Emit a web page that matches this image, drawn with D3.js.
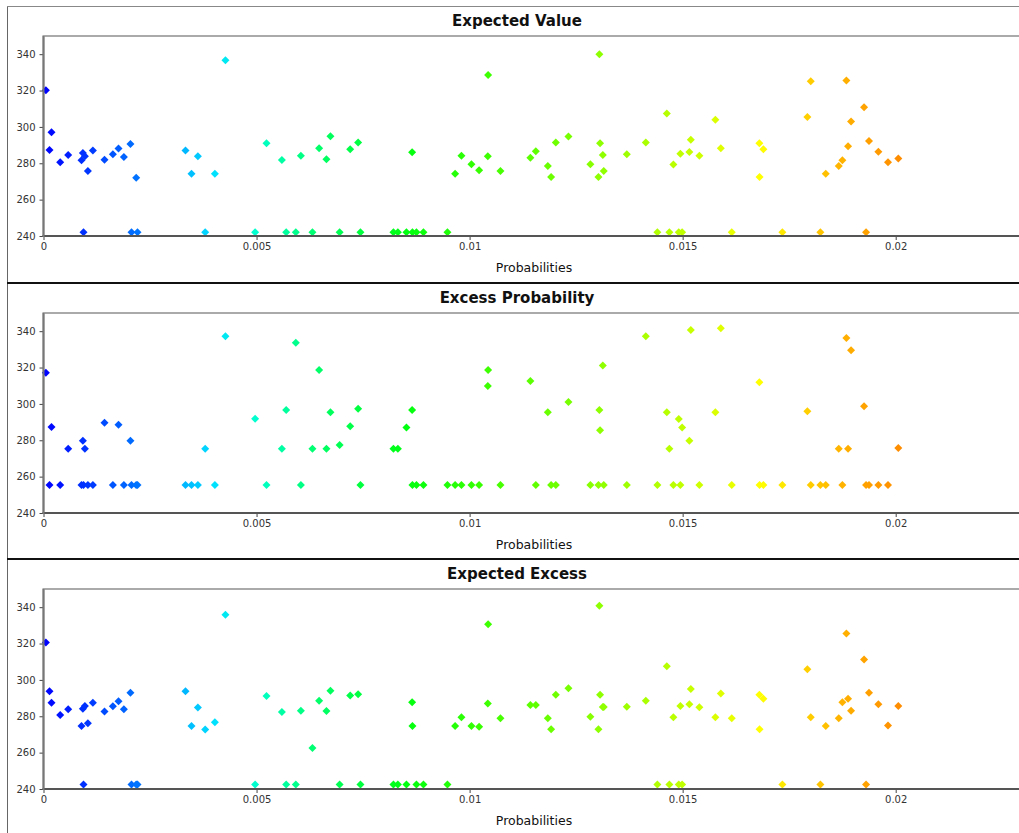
<!DOCTYPE html>
<html>
<head>
<meta charset="utf-8">
<script src="https://cdn.jsdelivr.net/npm/d3@7"></script>
<style>
  body { margin: 0; background: #fff; }
  svg { display: block; font-family: "DejaVu Sans", sans-serif; }
</style>
</head>
<body>
<script>
// probabilities shared by the three panels
const probabilities = [
  0.000056, 0.000141, 0.000188, 0.000392, 0.00058, 0.000892, 0.000924, 0.000939, 0.000971, 0.001042,
  0.001159, 0.001431, 0.001628, 0.00176, 0.001887, 0.002041, 0.002065, 0.002175, 0.002206, 0.003332,
  0.003473, 0.003623, 0.003794, 0.004022, 0.00427, 0.004967, 0.005233, 0.005594, 0.005695, 0.005922,
  0.00604, 0.006312, 0.006469, 0.00664, 0.006734, 0.00695, 0.007197, 0.007384, 0.007438, 0.008212,
  0.008316, 0.008517, 0.008651, 0.008658, 0.008752, 0.008916, 0.00948, 0.00966, 0.009808, 0.010043,
  0.010223, 0.010435, 0.010427, 0.010723, 0.011427, 0.011554, 0.011835, 0.011913, 0.012023, 0.012319,
  0.012835, 0.013023, 0.013046, 0.013062, 0.013126, 0.013149, 0.013689, 0.014135, 0.014407, 0.014628,
  0.014689, 0.014782, 0.014909, 0.014947, 0.014987, 0.015158, 0.015191, 0.015393, 0.015768, 0.015895,
  0.016153, 0.0168, 0.016805, 0.016894, 0.01734, 0.017927, 0.018006, 0.018232, 0.018358, 0.018663,
  0.018748, 0.018842, 0.018882, 0.018952, 0.019257, 0.019304, 0.019374, 0.019593, 0.01982, 0.020062
];

const expectedValue = [
  320.2, 287.3, 297.1, 280.6, 284.6, 281.7, 285.7, 242, 283.9, 275.8,
  287, 282, 285, 288.1, 283.5, 290.6, 242, 272.1, 242, 287,
  274.3, 283.9, 242, 274.3, 336.7, 242, 291, 281.8, 242, 242,
  284.2, 242, 288.3, 282.2, 294.9, 242, 287.7, 291.4, 242, 242,
  242, 242, 286.1, 242, 242, 242, 242, 274.3, 284.2, 279.5,
  276.2, 328.6, 283.9, 275.8, 283.1, 286.6, 278.5, 272.5, 291.4, 294.7,
  279.5, 272.5, 340, 291, 284.6, 275.8, 285, 291.4, 242, 307.4,
  242, 279.3, 242, 285.3, 242, 286.2, 293, 284.2, 303.9, 288.3,
  242, 291, 272.5, 287.7, 242, 305.5, 325.1, 242, 274.3, 278.5,
  281.7, 325.5, 289.4, 303, 310.8, 242, 292.3, 286.4, 280.6, 282.6
];

const excessProbability = [
  317.2, 255.4, 287.3, 255.4, 275.4, 255.4, 279.8, 255.4, 275.4, 255.4,
  255.4, 289.7, 255.4, 288.6, 255.4, 279.8, 255.4, 255.4, 255.4, 255.4,
  255.4, 255.4, 275.4, 255.4, 337.2, 291.9, 255.4, 275.4, 296.7, 333.6,
  255.4, 275.4, 318.7, 275.4, 295.4, 277.4, 287.7, 297.4, 255.4, 275.4,
  275.4, 287, 296.7, 255.4, 255.4, 255.4, 255.4, 255.4, 255.4, 255.4,
  255.4, 318.7, 309.9, 255.4, 312.6, 255.4, 295.4, 255.4, 255.4, 301.1,
  255.4, 255.4, 296.7, 285.5, 321.1, 255.4, 255.4, 337.2, 255.4, 295.4,
  275.4, 255.4, 291.7, 255.4, 287, 279.8, 340.7, 255.4, 295.4, 341.6,
  255.4, 311.9, 255.4, 255.4, 255.4, 296, 255.4, 255.4, 255.4, 275.4,
  255.4, 336.3, 275.4, 329.5, 298.7, 255.4, 255.4, 255.4, 255.4, 275.8
];

const expectedExcess = [
  320.6, 293.7, 287.4, 280.7, 283.8, 274.7, 284.2, 242.5, 285.7, 276.1,
  287.5, 282.6, 285.5, 288.2, 283.8, 293, 242.5, 242.5, 242.5, 293.7,
  274.7, 284.8, 272.7, 276.7, 335.8, 242.5, 291.2, 282.4, 242.5, 242.5,
  283.1, 262.6, 288.5, 282.9, 294, 242.5, 291.4, 292.1, 242.5, 242.5,
  242.5, 242.5, 287.7, 274.7, 242.5, 242.5, 242.5, 274.7, 279.4, 274.7,
  274.3, 330.6, 287, 278.9, 286.2, 286.2, 278.9, 272.8, 291.8, 295.4,
  279.8, 272.8, 340.8, 291.8, 285.1, 285.1, 285.3, 288.6, 242.5, 307.5,
  242.5, 279.4, 242.5, 285.7, 242.5, 286.6, 295, 284.9, 279.4, 292.5,
  278.9, 291.8, 272.8, 289.7, 242.5, 305.9, 279.4, 242.5, 274.7, 278.9,
  287.7, 325.5, 289.7, 283.1, 311.2, 242.5, 293, 286.6, 274.9, 285.7
];

const panelTitles = ['Expected Value', 'Excess Probability', 'Expected Excess'];
const panelSeries = [expectedValue, excessProbability, expectedExcess];
const xTicks = [0, 0.005, 0.01, 0.015, 0.02];
const yTicks = [240, 260, 280, 300, 320, 340];
const xLabel = 'Probabilities';

const width = 1019;
const height = 833;
const panelStep = 276.5;
const frame = { left: 43.5, right: 1030, top: 36, bottom: 236 };

const x = d3.scaleLinear().domain([0, 0.02]).range([frame.left, 895.7]);
const y = d3.scaleLinear().domain([240, 350]).range([frame.bottom, frame.top]);

// hue runs blue -> cyan -> green -> yellow -> orange along the probabilities
const color = d3.scaleLinear()
  .domain([0, 0.002, 0.004, 0.005, 0.0065, 0.0085, 0.0105, 0.013, 0.015, 0.0168, 0.018, 0.019, 0.0201])
  .range(['#0000ff', '#0068ff', '#00e0ff', '#00ffcc', '#00ff66', '#00ff10', '#40ff00',
    '#8cff00', '#c0ff00', '#ffff00', '#ffcc00', '#ffaa00', '#ff8c00'])
  .clamp(true);

const diamond = d3.symbol(d3.symbolSquare, 32);

const svg = d3.select('body').append('svg')
  .attr('width', width)
  .attr('height', height);

// outer boxes around the panels
svg.append('line')
  .attr('x1', 7.5).attr('x2', 7.5).attr('y1', 6).attr('y2', height)
  .attr('stroke', '#666').attr('stroke-width', 1);
svg.append('line')
  .attr('x1', 7).attr('x2', width).attr('y1', 6.5).attr('y2', 6.5)
  .attr('stroke', '#888').attr('stroke-width', 1);

panelSeries.forEach((series, i) => {
  const g = svg.append('g')
    .attr('transform', `translate(0,${Math.round(i * panelStep)})`);

  if (i > 0) {
    g.append('line')
      .attr('x1', 7).attr('x2', width).attr('y1', 6).attr('y2', 6)
      .attr('stroke', '#111').attr('stroke-width', 2);
  }

  g.append('text')
    .attr('x', 517)
    .attr('y', 26)
    .attr('text-anchor', 'middle')
    .attr('font-size', 15)
    .attr('font-weight', 'bold')
    .attr('fill', '#111')
    .text(panelTitles[i]);

  // frame top and right
  g.append('path')
    .attr('d', `M${frame.left},${frame.bottom}V${frame.top}H${frame.right}`)
    .attr('fill', 'none')
    .attr('stroke', '#aaa')
    .attr('stroke-width', 2);

  const points = probabilities.map((p, k) => ({ p, v: series[k] }));

  g.append('g')
    .selectAll('path')
    .data(points)
    .enter().append('path')
      .attr('d', diamond)
      .attr('transform', d => `translate(${x(d.p)},${y(d.v)}) rotate(45)`)
      .attr('fill', d => color(d.p));

  const xAxis = g.append('g')
    .attr('transform', `translate(0,${frame.bottom})`)
    .call(d3.axisBottom(x).tickValues(xTicks).tickSize(4).tickPadding(3).tickFormat(d => String(d)));
  xAxis.select('.domain').remove();
  xAxis.append('line')
    .attr('x1', frame.left - 1).attr('x2', frame.right)
    .attr('stroke', '#555').attr('stroke-width', 2);

  const yAxis = g.append('g')
    .attr('transform', `translate(${frame.left},0)`)
    .call(d3.axisLeft(y).tickValues(yTicks).tickSize(4).tickPadding(4));
  yAxis.select('.domain').remove();
  yAxis.append('line')
    .attr('y1', frame.top).attr('y2', frame.bottom + 1)
    .attr('stroke', '#777').attr('stroke-width', 2);

  [xAxis, yAxis].forEach(ax => {
    ax.selectAll('.tick line').attr('stroke', '#444');
    ax.selectAll('.tick text')
      .attr('fill', '#333')
      .attr('font-size', 10)
      .attr('font-family', '"DejaVu Sans", sans-serif');
  });

  g.append('text')
    .attr('x', 534)
    .attr('y', 272)
    .attr('text-anchor', 'middle')
    .attr('font-size', 12.5)
    .attr('fill', '#111')
    .text(xLabel);
});
</script>
</body>
</html>
